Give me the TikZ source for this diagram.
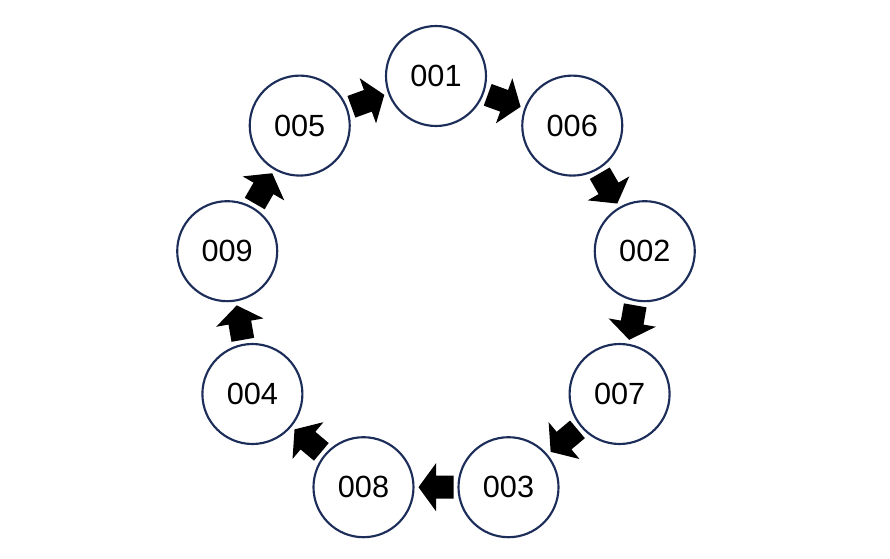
\documentclass[tikz,border=0pt]{standalone}
\usepackage{fontspec}
\setmainfont{Liberation Sans}
\usetikzlibrary{calc}
\definecolor{ringblue}{RGB}{28,45,90}
\tikzset{
  stepnode/.style={circle, draw=ringblue, line width=1.6pt, fill=white,
    minimum size=75pt, inner sep=0pt, font=\fontsize{23}{27}\selectfont},
  blockarrow/.pic={\fill[black] (-17.5,-11.5) -- (0,-11.5) -- (0,-24) -- (17.5,0)
      -- (0,24) -- (0,11.5) -- (-17.5,11.5) -- cycle;}
}
\begin{document}
\begin{tikzpicture}[x=0.75pt,y=0.75pt]
\useasboundingbox (0,0) rectangle (890,558);
\coordinate (C) at (436,270);
\node[stepnode] (n001) at ($(C)+(90:212)$) {001};
\node[stepnode] (n006) at ($(C)+(50:212)$) {006};
\node[stepnode] (n002) at ($(C)+(10:212)$) {002};
\node[stepnode] (n007) at ($(C)+(-30:212)$) {007};
\node[stepnode] (n003) at ($(C)+(-70:212)$) {003};
\node[stepnode] (n008) at ($(C)+(-110:212)$) {008};
\node[stepnode] (n004) at ($(C)+(-150:212)$) {004};
\node[stepnode] (n009) at ($(C)+(170:212)$) {009};
\node[stepnode] (n005) at ($(C)+(130:212)$) {005};
\foreach \a/\b/\m in {n001/n006/70, n006/n002/30, n002/n007/-10, n007/n003/-50,
  n003/n008/-90, n008/n004/-130, n004/n009/-170, n009/n005/150, n005/n001/110}
  \path ($(\a)!0.5!(\b)$) pic[rotate=\m-90] {blockarrow};
\end{tikzpicture}
\end{document}
